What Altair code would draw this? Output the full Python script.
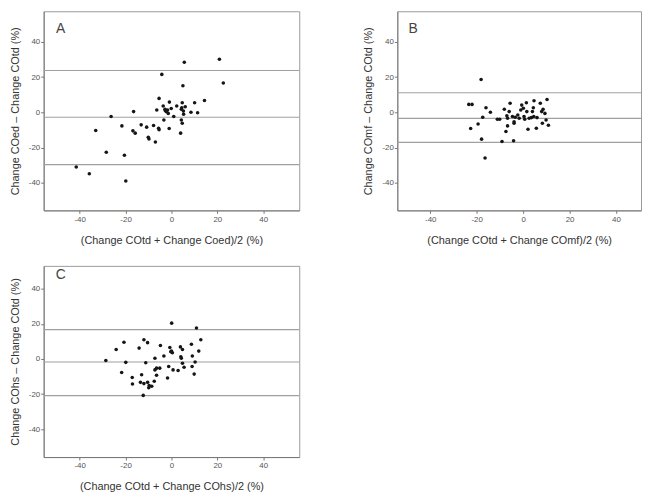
import altair as alt
import pandas as pd

ticks = [-40, -20, 0, 20, 40]

# Panel A: COed vs COtd
a_x = [-41.5, -35.8, -33.0, -28.4, -26.3, -21.6, -20.5, -19.9, -16.5, -16.8, -15.8, -13.2, -10.8, -10.1, -9.8,
       -7.0, -7.8, -6.4, -5.4, -5.6, -5.4, -4.2, -3.6, -3.3, -2.8, -2.3, -1.7, -0.9, -1.0, -0.1, 1.0, 2.3, 4.3,
       4.0, 4.3, 4.7, 4.7, 5.0, 5.6, 5.2, 6.0, 5.3, 8.5, 10.1, 11.4, 14.4, 20.9, 22.6, -1.4, 4.5, -2.7]
a_y = [-31.0, -34.8, -10.3, -22.6, -2.4, -7.7, -24.3, -38.9, 0.4, -10.5, -11.8, -7.1, -8.4, -14.2, -15.1,
       -16.8, -7.5, 1.3, 7.9, -9.0, -9.9, 21.5, 3.6, -4.3, 1.7, 0.4, 1.3, 5.8, -9.2, 2.2, -2.4, 3.6, 1.7,
       -11.8, -4.3, 5.4, -6.2, 15.1, 28.4, 0.7, 3.2, -1.1, 0.0, 5.4, -0.2, 6.7, 30.1, 16.6, -0.6, 2.6, 1.1]
a_lines = [23.7, -2.8, -29.6]

# Panel B: COmf vs COtd
b_x = [-18.1, -23.4, -22.0, -22.6, -19.4, -17.9, -16.4, -17.4, -16.0, -14.1, -9.1, -11.1, -10.1, -8.1, -7.4,
       -6.7, -6.0, -5.6, -6.7, -4.6, -4.1, -3.9, -3.9, -3.4, -2.3, -0.6, 0.1, 0.7, 1.4, 2.1, 2.6, 3.6, 4.0,
       4.7, 5.7, 7.4, 8.6, 9.4, 8.3, 10.3, 9.9, 10.9, 4.6, -1.7, 1.6, -1.0, 4.4, 8.0, 0.4, 6.0, -7.0]
b_y = [18.6, 4.5, 4.5, -9.2, -6.6, -15.2, -25.9, -2.8, 2.6, 0.0, -16.5, -3.9, -3.9, 1.7, -10.9,
       -7.7, 0.4, 5.1, -3.4, -2.4, -16.1, -5.3, -6.2, -2.8, -1.5, 4.1, 2.3, -3.9, 5.4, -9.6, -3.4, -3.0, 0.4,
       6.6, -9.0, 5.1, 1.7, -0.6, -6.2, 7.3, -4.3, -7.3, -2.4, -3.4, 0.4, 1.3, 2.6, 0.4, -2.4, -3.0, -2.0]
b_lines = [11.1, -3.4, -17.0]

# Panel C: COhs vs COtd
c_x = [-28.6, -24.1, -20.7, -19.9, -21.7, -17.1, -17.0, -14.1, -12.0, -10.4, -13.0, -13.5, -12.0, -10.4,
       -11.2, -12.3, -9.9, -8.6, -9.7, -7.5, -7.2, -6.5, -7.2, -6.5, -5.1, -4.8, -3.3, -1.7, -1.2, -0.7,
       0.0, 0.1, 0.4, 0.7, 2.9, 3.9, 4.8, 4.1, 4.3, 4.8, 5.5, 8.7, 9.1, 9.0, 9.9, 10.3, 10.9, 11.9, 12.8, -0.3]
c_y = [-0.9, 5.4, 9.5, -1.9, -7.7, -10.5, -14.2, 6.2, 11.0, 9.3, -9.0, -13.3, -14.0, -13.3,
       -2.1, -20.7, -16.4, -15.5, -15.1, -12.7, 0.4, -5.2, -6.2, -9.2, -5.2, 7.7, 1.7, -10.8, -4.3, 6.5,
       4.5, 20.4, 3.6, -6.2, -6.5, 6.9, 5.4, 1.3, 0.4, -2.4, -4.7, 8.4, 1.7, -4.3, -8.6, -1.7, 17.6, 4.5, 11.0, 4.1]
c_lines = [16.7, -1.7, -20.8]

letters = ["A", "B", "C"]
letter_x = [-48.3, -47.4, -48.3]
letter_y = [47.0, 47.0, 47.5]

x_titles = ["(Change COtd + Change Coed)/2 (%)",
            "(Change COtd + Change COmf)/2 (%)",
            "(Change COtd + Change COhs)/2 (%)"]
y_titles = ["Change COed \u2013 Change COtd (%)",
            "Change COmf \u2013 Change COtd (%)",
            "Change COhs \u2013 Change COtd (%)"]


def panel(xs, ys, lines, i, xdom, ydom, width, height):
    sx = alt.Scale(domain=xdom, nice=False, zero=False)
    sy = alt.Scale(domain=ydom, nice=False, zero=False)
    xax = alt.Axis(values=ticks, title=x_titles[i], labelExpr="'' + datum.value",
                   titlePadding=11, labelPadding=2)
    yax = alt.Axis(values=ticks, title=y_titles[i], labelExpr="'' + datum.value",
                   titlePadding=8, labelPadding=1)
    rules = alt.Chart(pd.DataFrame({"y": lines})).mark_rule(
        color="#a0a0a0", strokeWidth=1.2).encode(
        y=alt.Y("y:Q", scale=sy, axis=yax))
    pts = alt.Chart(pd.DataFrame({"x": xs, "y": ys})).mark_circle(
        size=13, color="#151515", opacity=1, clip=True).encode(
        x=alt.X("x:Q", scale=sx, axis=xax),
        y=alt.Y("y:Q", scale=sy, axis=yax))
    lab = alt.Chart(pd.DataFrame({"x": [letter_x[i]], "y": [letter_y[i]], "t": [letters[i]]})).mark_text(
        fontSize=14, color="#444", font="Liberation Sans").encode(
        x=alt.X("x:Q", scale=sx, axis=xax),
        y=alt.Y("y:Q", scale=sy, axis=yax),
        text="t:N")
    return alt.layer(rules, pts, lab).properties(width=width, height=height)


pa = panel(a_x, a_y, a_lines, 0, [-55.7, 55.7], [-55.6, 57.3], 258, 201)
pb = panel(b_x, b_y, b_lines, 1, [-54.2, 50.8], [-55.6, 57.3], 246, 201)
pc = panel(c_x, c_y, c_lines, 2, [-55.7, 55.7], [-55.8, 53.0], 258, 193)

chart = alt.vconcat(
    alt.hconcat(pa, pb, spacing=61),
    pc, spacing=19
).properties(padding=0).configure_view(
    stroke="#9a9a9a", strokeWidth=1
).configure_axis(
    grid=False, domainColor="#777", tickColor="#777", tickSize=3,
    labelFont="Liberation Sans", labelFontSize=8, labelColor="#555",
    titleFont="Liberation Sans", titleFontSize=11, titleFontWeight="normal", titleColor="#333"
)

chart.save("out.html", embed_options={"renderer": "svg", "actions": False})
